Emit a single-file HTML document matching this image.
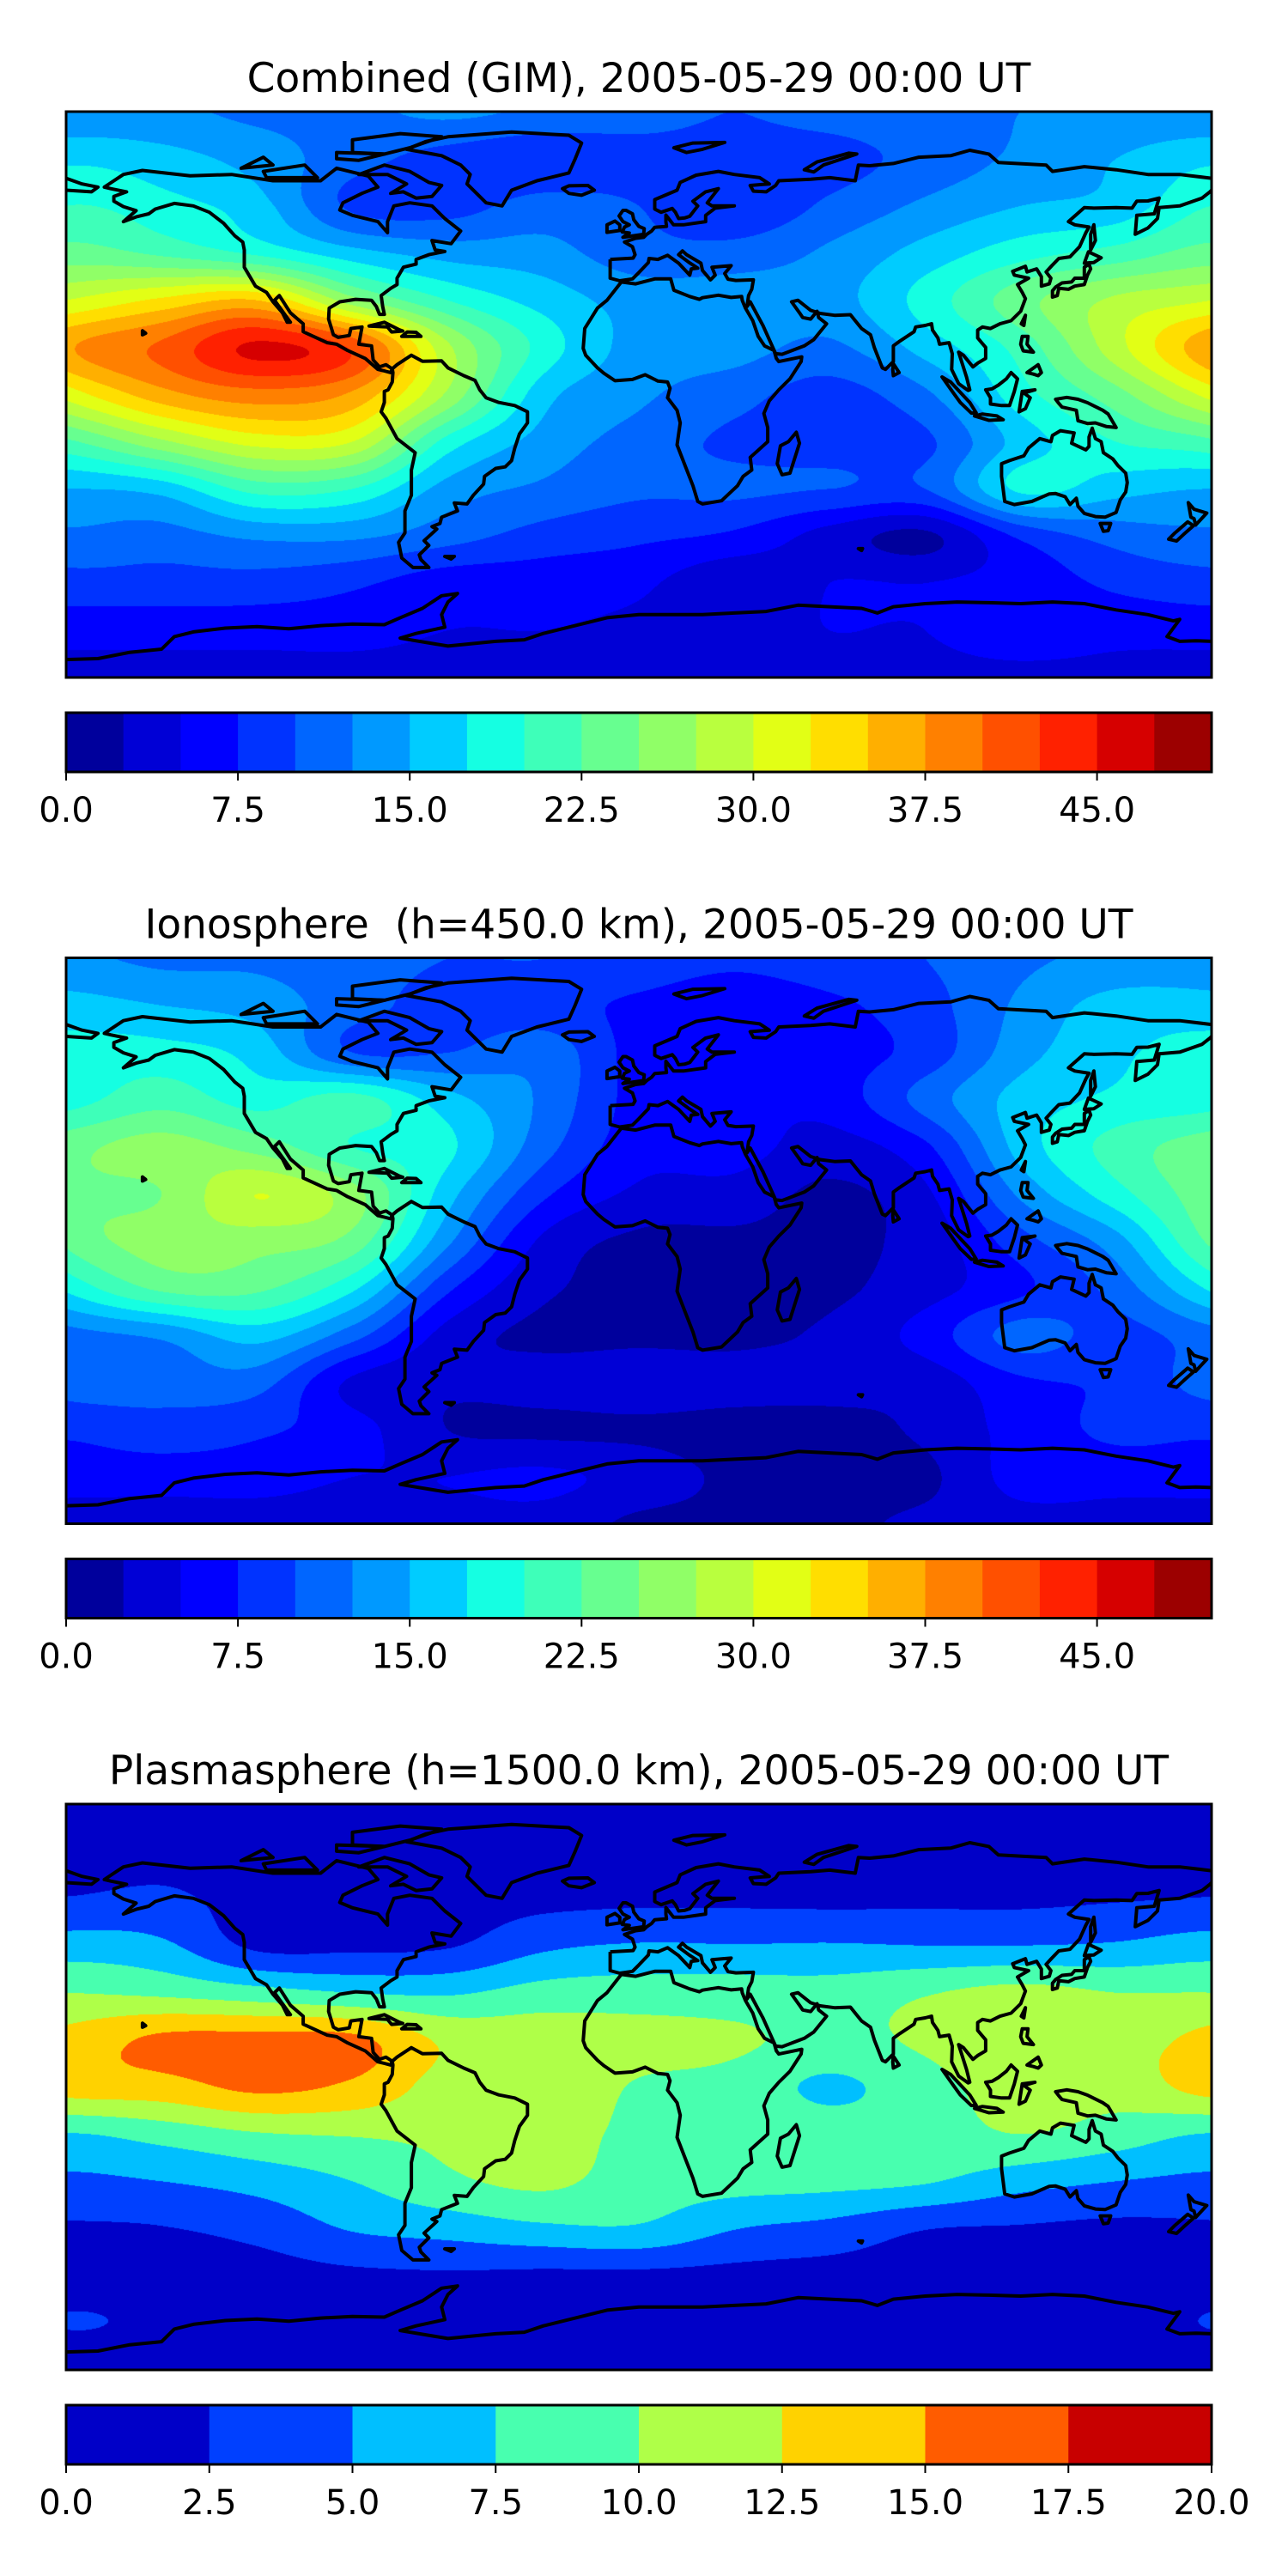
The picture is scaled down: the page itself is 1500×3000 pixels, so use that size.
<!DOCTYPE html>
<html><head><meta charset="utf-8">
<style>
html,body{margin:0;padding:0;background:#fff;}
#wrap{position:relative;width:1500px;height:3000px;overflow:hidden;background:#fff;}
canvas{position:absolute;}
#ov{position:absolute;left:0;top:0;}
text{font-family:"DejaVu Sans","Liberation Sans",sans-serif;fill:#000;}
</style></head>
<body>
<div id="wrap">
<svg id="ov" width="1500" height="3000" viewBox="0 0 1500 3000">
<defs>
<clipPath id="clip0"><rect x="77" y="130" width="1334" height="659"/></clipPath>
<clipPath id="clip1"><rect x="77" y="1115.5" width="1334" height="659"/></clipPath>
<clipPath id="clip2"><rect x="77" y="2101" width="1334" height="659"/></clipPath>
</defs>
<text x="744" y="107" font-size="47" text-anchor="middle">Combined (GIM), 2005-05-29 00:00 UT</text>
<text x="744" y="1092.5" font-size="47" text-anchor="middle" style="white-space:pre" xml:space="preserve">Ionosphere  (h=450.0 km), 2005-05-29 00:00 UT</text>
<text x="744" y="2078" font-size="47" text-anchor="middle">Plasmasphere (h=1500.0 km), 2005-05-29 00:00 UT</text>
</svg>
</div>
<script>
// ---------- data: grid nodes ----------
const lonNodes = [-180,-150,-120,-90,-60,-30,0,30,60,90,120,150];
const latNodes = [90,75,60,45,30,15,0,-15,-30,-45,-60,-75,-90];
// Combined GIM TEC, one array per longitude column (lat 90 -> -90)
const gimGrid = [
 [13,17,20,23.5,30,37,31,22,15,12,9,6,4],
 [13,16,18.5,22,33,40.5,36.5,27,16,11.5,9,6,4],
 [12,14,16,19.5,35,45.5,39,31,21,13,9,6,4],
 [12,11,9.5,16,26,42,37,30,20,13,8,6,4],
 [13,9,9,14,20,28,27,19,14,11,6,5,4],
 [12,8,11,13.5,16.5,19,16,14,12,9,6,5,4],
 [11,9,10,11,14,14,13,11.5,10.5,8,5.5,4.5,4],
 [10,9,8,11,14,13.5,11,9.5,10.5,7,3,4,4],
 [11,9,10.5,13,14,12,9,9,10,4,5,5,4],
 [12,11,13,16,18.5,16,12,9.5,10,2,5,5,4],
 [12.5,13,15,19,24,21,19,16,18,8,6,7,4],
 [13,15,16,21,28,29,24,20,16,11,8,6,4]
];
// Ionosphere TEC
const ionoGrid = [
 [13,16,18.5,19,24,24,23,18,11.5,11,8,6,4],
 [12,15,18.5,21.5,26,25,26,23,13,11,9,6,4],
 [12,14,16.5,19,24,30,26,23,16,11,8,6,4],
 [11,11,10,21,20,26,24,18,11,4.5,6,5,4],
 [10,9,10,16,18,16,13,8,4,3,2.5,5,4],
 [10,8.5,11.5,12,11,8,4.5,3,2,3.5,2,5.5,4],
 [9,7,6.5,6.5,6,4.5,2,2,2,4,2,4,2],
 [8,6,6,5.5,6,4,2,2,2,3.5,1.5,2,2],
 [9,7,6.5,6,4,2,2,2,3,3.5,1.5,2,2],
 [10,9,8.5,11,7,4.5,3.5,4,6,3.5,3,2,3],
 [12,13,14,16,16,13,9,7,11,7,6,6,4],
 [13,16,17,18,21,19,14,11,9,8,8,6,4]
];
// Plasmasphere TEC
const plasmaGrid = [
 [0.5,1,2.6,6.2,10,13.3,13.5,7.4,4.5,2.2,1.5,2.6,1],
 [0.5,1.5,3,5.5,9.5,15.5,14,8.5,5,2.4,1.5,2,1],
 [0.5,1,1.5,2,8.5,15.8,15.5,9.8,6,3.3,1.5,1,1],
 [0.5,1,1.5,2,7.5,15.6,14.5,10.2,7.5,5.2,2,1,1],
 [0.5,1,1.5,2.3,7.2,12,11.5,10.5,9.5,6,2.2,1.2,1],
 [0.5,1,1.8,4.5,8.5,11.5,11.5,11,10.5,7,2,1.2,1],
 [0.5,1,2,5.2,8.8,10.8,9.8,9.5,8.8,7.2,2,1.2,1],
 [0.5,1,2,5.1,8.8,10.3,9.3,9.8,8.5,5.1,1.8,1.2,1],
 [0.5,1,1.9,5.2,8.6,9.5,7,8.8,8.2,4.2,1.6,1.2,1],
 [0.5,1,2,5,9.8,10.3,9.2,8.8,7.7,2.6,1.5,1.2,1],
 [0.5,1,2,5,10.8,11.5,11,10,6,2.3,1.5,1.2,1],
 [0.5,1,2.3,5.3,10,11.5,11,8.8,5,2,1.5,1.2,1]
];
const tecTicks = [0,7.5,15,22.5,30,37.5,45];
const tecTickLabels = ["0.0","7.5","15.0","22.5","30.0","37.5","45.0"];
const plasmaTicks = [0,2.5,5,7.5,10,12.5,15,17.5,20];
const plasmaTickLabels = ["0.0","2.5","5.0","7.5","10.0","12.5","15.0","17.5","20.0"];

// ---------- coastlines (lon,lat) ----------
const coasts = {
"north-america":[[-168,66],[-162,70],[-156,71.3],[-141,69.6],[-128,70],[-115,68],[-100,68],[-95,72],[-85,69.5],[-82,66],[-87,64],[-93,61],[-94,58.7],[-90,57],[-82,55],[-79,51.5],[-79,55],[-77,60],[-72,61],[-65,60],[-61,56],[-56,52],[-59,48],[-65,49],[-64,46],[-61,45.5],[-66,44.5],[-70,43],[-70,41.5],[-74,40.5],[-76,37],[-76,35],[-78,33.8],[-81,31.5],[-80.5,28],[-80,25.5],[-81.5,25.5],[-82.5,28],[-84,30],[-89,30.3],[-94,29.5],[-97.3,27.5],[-97.5,24],[-96,19],[-94.5,18.2],[-91,18.8],[-90.5,21],[-87,21.5],[-88,16],[-84,15.5],[-83.5,11],[-81.5,8.8],[-79.5,9.5],[-77.5,8.2],[-78,7],[-80,7.5],[-82,8],[-86,11.5],[-91.5,14],[-95,16],[-98,16.5],[-105.5,20],[-105.5,22.5],[-109.5,26],[-113,31.5],[-114.5,30],[-109.5,23],[-110.5,23],[-112,26],[-115,29.5],[-117,32.5],[-120.5,34.5],[-124,40.5],[-124,46],[-124.5,48.5],[-127,50.5],[-130.5,54.5],[-135,58],[-140,60],[-146,60.8],[-152,59],[-154,57.5],[-158,56.5],[-162,55],[-158,58.5],[-162,59.8],[-165,61.5],[-165,63],[-161,64.5],[-166,65.5],[-168,66]],
"greenland":[[-73,78],[-67,80.5],[-60,82],[-40,83.5],[-22,82.5],[-18,80],[-20,75],[-22,70.5],[-32,68],[-40,65],[-43,60],[-48,61],[-51,64],[-54,67],[-53,70],[-56,73],[-62,76],[-73,78]],
"baffin":[[-80,73],[-72,71],[-66,67.5],[-62,66.5],[-65,63],[-70,62.5],[-74,64.5],[-78,64],[-73,67],[-79,70],[-88,70],[-80,73]],
"ellesmere":[[-90,81],[-75,83],[-62,82],[-72,78.5],[-80,76.5],[-90,77],[-90,81]],
"victoria":[[-118,71],[-105,73],[-101,69],[-117,69],[-118,71]],
"banks":[[-125,72],[-118,75.5],[-115,73],[-125,72]],
"devon":[[-95,77],[-80,76.5],[-88,74.5],[-95,75],[-95,77]],
"south-america":[[-77.5,8.2],[-76,9.5],[-71.5,12.5],[-68,10.6],[-62,10.7],[-60,8.5],[-55,6],[-51.5,4.5],[-50,1.5],[-48,-1],[-44,-2.5],[-39,-3.5],[-35,-5.5],[-35,-9],[-37.5,-12.5],[-39,-17],[-40,-21],[-42,-23],[-45,-23.5],[-48.5,-26],[-48.8,-28.5],[-52,-32],[-54,-34.8],[-58,-34.5],[-57,-37],[-62,-39],[-62.5,-41],[-65,-42],[-63.5,-42.8],[-67.5,-46.5],[-66,-48],[-69,-51],[-68.5,-52.5],[-66,-55],[-71,-55],[-74.5,-52],[-75.5,-47],[-73.5,-44],[-73.5,-37],[-71.5,-32],[-71.5,-24],[-70.3,-18.5],[-76,-14],[-79.5,-7.5],[-81,-5.5],[-80,-2.5],[-80,1],[-78.8,1.5],[-77.5,4],[-77.3,7],[-77.5,8.2]],
"eurasia":[[-9,43],[-9,39],[-9,37],[-6,36.2],[-2,36.8],[0,38.8],[3,42],[3.2,43.3],[6,43],[9,44.3],[12.5,41.8],[16,38],[16.5,40],[18.5,40.2],[15.8,42],[12.5,44.5],[13.7,45.7],[15,44.5],[19.5,41.8],[20,39.5],[22.5,36.5],[24,38],[23,40.5],[26.5,40.8],[29,41],[27,38.5],[28,36.7],[30.5,36.3],[36,36.5],[35.5,33.5],[34.5,31.5],[34,28],[35,29.5],[39,22],[43,13],[45,12.8],[52,15.5],[55,17.5],[59,22.5],[56.5,24.5],[56,26.5],[54,24],[51.5,24.5],[50.5,26],[48,29.5],[50,30],[54,26.8],[57,25.8],[61.5,25.2],[66.5,25.4],[68,23.5],[70,21],[72.8,19],[74,15],[76.5,8.5],[77.5,8],[80,10.5],[80,15.5],[82,17],[86.5,20],[87,21.5],[90,22],[92,22.5],[92.3,20.5],[94,18],[94.5,16],[97.5,16.5],[98.5,13],[98.3,8],[100.5,3.5],[103.5,1.3],[104,1.5],[103,5.5],[100.5,13.5],[102,12.5],[105,8.8],[106.5,10],[109,11.5],[109,15],[106.5,18],[106.5,20.5],[108,21.5],[110.5,21],[113.5,22.5],[117,23.5],[120,26.5],[121.5,30.5],[120.5,32.5],[119,35],[122.5,37],[118,38],[117.5,39.2],[121.5,40.8],[122,39],[125,40],[126.5,37.5],[126.5,34.5],[129,35.2],[129.5,37],[128,39],[129.8,41],[132,43.3],[135.5,43.8],[138.5,47],[140.5,51.5],[141.5,53.3],[137,54],[135,55],[140,59.5],[143,59.3],[150,59.5],[155,59.3],[156.5,61.5],[160,61.6],[163.5,62.5],[162,57.5],[156.5,57],[156,51],[160,53],[163,56],[163.5,59.5],[170,60],[177,62.5],[179.5,64.5],[180,65]],
"eurasia-north":[[180,68.8],[170,70],[160,70],[150,71.5],[140,72.5],[130,71],[128,73],[113,73.8],[110,76.5],[104,77.7],[98,76],[88,75.5],[80,73.5],[72.5,72.8],[69,73],[68,68],[60,69],[54,68.5],[44,68],[43,66.5],[40,64.5],[36,64.7],[35,66.5],[41,67],[38,69],[30,70],[25,71],[18,69.8],[13,67.5],[12,65],[5,62],[5,59],[7,58],[10.5,59.2],[11.5,58],[12.5,56],[14.5,56.2],[16,56.7],[18.5,60],[17,61.5],[21,64.5],[25,65.5],[21.5,61],[23,60],[30,60],[24,59.3],[21,57],[21,55],[14,54],[10.9,54],[8.5,57.1],[8.5,55],[8.7,53.5],[5,53.2],[4,52],[2.5,51],[1.5,50],[-1,49.7],[-4.5,48.5],[-2,47],[-1.2,44.5],[-1.8,43.4],[-9,43]],
"chukotka":[[-180,65],[-172,64.5],[-170,66],[-175,67],[-180,68.8]],
"africa":[[32.3,31.2],[29,30.9],[25,31.6],[20,30.8],[19,30.3],[16,31.2],[11,33.2],[10,36.8],[5,36.8],[-1,35.2],[-5.5,35.8],[-10,30],[-13,27.5],[-17,21],[-17.5,14.7],[-16.7,12.5],[-13,8.5],[-11,6.8],[-7.5,4.4],[-2,4.8],[2,6.3],[6,4.3],[9,4],[9.8,2],[9,-1],[12,-5],[13,-9],[12,-16],[14.5,-22.5],[17,-29],[18.5,-34],[20,-34.8],[26,-33.8],[31,-29],[32.8,-26],[35.5,-24],[35,-20],[40.5,-15],[40.5,-10.5],[39.3,-6],[41,-2],[44,1.5],[47.5,5],[51,10.5],[51.2,12],[44,10.5],[43.2,11.5],[42.5,14],[39.5,15.5],[37.5,18.5],[35.8,23.5],[33.5,27.5],[32.5,30],[32.3,31.2]],
"madagascar":[[49.5,-12],[50.5,-15.5],[47.5,-25],[45,-25.5],[43.5,-22],[44.5,-16.3],[47,-15],[49.5,-12]],
"great-britain":[[-5,50],[1.5,51],[1.7,52.8],[0,53.5],[-1.6,55.6],[-2,57.5],[-4,58.6],[-5,58.6],[-6.2,56.8],[-5,55],[-3,54],[-4.5,53.3],[-5.2,51.7],[-3,51.4],[-5,50]],
"ireland":[[-6,52.2],[-6,54],[-7.5,55.2],[-10,54],[-10,51.6],[-6,52.2]],
"iceland":[[-22,64],[-24,65.5],[-22,66.4],[-16,66.5],[-14,65],[-18,63.4],[-22,64]],
"honshu":[[130,31],[131.5,31.5],[132,33.8],[135,33.5],[137,34.5],[140,35],[141,38],[142,40],[141.5,41.5],[140,40.5],[140,37],[137,37],[136,35.8],[133,35.5],[131,34.2],[130,33],[130,31]],
"hokkaido":[[140,41.8],[141.3,45.4],[145.3,43.5],[143,42],[140,41.8]],
"sakhalin":[[142,46],[143.5,49],[143,54],[142,51],[142,46]],
"australia":[[114,-22],[114,-26],[115,-34],[118,-35],[123.5,-34],[129,-31.6],[131,-31.5],[134,-32.5],[135.5,-35],[137.5,-33],[138,-35.5],[140,-37.8],[143.5,-38.8],[146.5,-39],[150,-37.5],[151.3,-33.5],[153,-31],[153.5,-28],[153,-25],[150.5,-22.5],[149,-20.5],[146,-18.5],[145.3,-15],[143.5,-14],[142.5,-10.7],[141.5,-13.5],[141.5,-16.5],[140.5,-17.6],[136,-15.5],[136.8,-12.2],[132.5,-11.5],[130,-13],[129.5,-15],[126,-14],[122.5,-17],[121,-19.5],[116.5,-21],[114,-22]],
"tasmania":[[145,-41],[148.3,-41],[147.5,-43.3],[146,-43.5],[145,-41]],
"nz-north":[[172.7,-34.4],[174.5,-36.5],[178.5,-37.7],[177,-39.3],[175,-41.5],[174.5,-39.5],[173.5,-39],[172.7,-34.4]],
"nz-south":[[172.5,-40.5],[174.3,-41.7],[171.2,-44.5],[169,-46.6],[166.5,-46],[168.5,-44],[172.5,-40.5]],
"sumatra":[[95.3,5.6],[98,4],[104,-2.5],[106,-5.8],[104.5,-5.9],[101,-2.5],[98.5,1],[95.3,5.6]],
"java":[[105.5,-6.8],[108,-6.2],[112.5,-6.8],[114.5,-8],[110,-8.2],[105.5,-6.8]],
"borneo":[[109,1.5],[110.5,-1],[110.5,-3],[114,-3.5],[116.5,-3.5],[118,1],[119,5],[117,7],[115.5,5],[113,3],[111,1.8],[109,1.5]],
"sulawesi":[[119.5,-5.5],[120.5,1],[124.5,1.5],[121,0.5],[123,-1],[121.5,-4.5],[119.5,-5.5]],
"new-guinea":[[131,-1.5],[134.5,-0.9],[138,-1.5],[141,-2.6],[145.8,-5],[147.5,-6.2],[150,-10.5],[147,-10.2],[143.5,-9],[141,-9.2],[138,-8.3],[137.5,-5],[133,-4],[132,-2.8],[131,-1.5]],
"luzon":[[120.5,18.5],[122.3,18.5],[122,16],[124,13.5],[120.8,13.9],[120,16],[120.5,18.5]],
"mindanao":[[122,7],[125.5,9.5],[126.5,7],[125.5,6],[124,6.5],[122,7]],
"taiwan":[[120.2,22.5],[121.5,25.2],[121,22],[120.2,22.5]],
"sri-lanka":[[80,6],[81.8,7],[80,9.8],[79.8,8],[80,6]],
"cuba":[[-84.8,21.8],[-80,23],[-75.5,20.7],[-74.2,20.2],[-77.7,19.9],[-79,21.5],[-84.8,21.8]],
"hispaniola":[[-74.5,18.5],[-68.5,18.5],[-70,19.8],[-72.8,19.9],[-74.5,18.5]],
"novaya-zemlya":[[52,71.5],[56,74],[66,76.8],[68.5,76.5],[58,73],[55,70.8],[52,71.5]],
"svalbard":[[11,78.5],[17,80],[27,80.2],[20,78],[15,77],[11,78.5]],
"hawaii":[[-156,19],[-155,19.5],[-156,20.3],[-156,19]],
"falklands":[[-61,-51.5],[-58,-51.5],[-59,-52.3],[-61,-51.5]],
"kerguelen":[[69,-49],[70.3,-49],[70,-49.6],[69,-49]],
"antarctica":[[-180,-84.3],[-170,-84],[-160,-82],[-150,-81],[-146,-77],[-140,-75.5],[-130,-74.3],[-120,-73.8],[-110,-74.5],[-100,-73.5],[-90,-73],[-80,-73.2],[-75,-71],[-68,-68],[-62,-64],[-57,-63.3],[-60,-66],[-62,-70],[-61,-74],[-70,-76],[-75,-77.5],[-60,-80],[-45,-78.5],[-36,-78],[-30,-76],[-20,-73.5],[-10,-71],[0,-70],[10,-70],[20,-70],[30,-69.5],[40,-69],[50,-67],[60,-67.5],[70,-68],[75,-69.5],[80,-67.5],[90,-66.5],[100,-66],[110,-66.2],[120,-66.5],[130,-66],[140,-66.5],[150,-68.5],[160,-70],[168,-72],[170,-71.5],[166,-77],[170,-78.5],[175,-78.3],[180,-78.5]]
};
const openLines = ["eurasia","eurasia-north","chukotka","antarctica"];

// ---------- layout ----------
const MX = 77, MW = 1334, MH = 659;
const panels = [
 {key:"combined", grid:gimGrid, top:130, cbTop:830, nLev:20, vmax:50, ticks:tecTicks, labels:tecTickLabels},
 {key:"ionosphere", grid:ionoGrid, top:1115.5, cbTop:1815.5, nLev:20, vmax:50, ticks:tecTicks, labels:tecTickLabels},
 {key:"plasmasphere", grid:plasmaGrid, top:2101, cbTop:2801, nLev:8, vmax:20, ticks:plasmaTicks, labels:plasmaTickLabels}
];
const CBH = 69;

function jet(x){
  function seg(pts){ for(let i=1;i<pts.length;i++){ if(x<=pts[i][0]){ const a=pts[i-1],b=pts[i]; return a[1]+(b[1]-a[1])*(x-a[0])/(b[0]-a[0]); } } return pts[pts.length-1][1]; }
  const r=seg([[0,0],[0.35,0],[0.66,1],[0.89,1],[1,0.5]]);
  const g=seg([[0,0],[0.125,0],[0.375,1],[0.64,1],[0.91,0],[1,0]]);
  const b=seg([[0,0.5],[0.11,1],[0.34,1],[0.65,0],[1,0]]);
  return [Math.round(r*255),Math.round(g*255),Math.round(b*255)];
}
function cr(p0,p1,p2,p3,t){ return 0.5*((2*p1)+(-p0+p2)*t+(2*p0-5*p1+4*p2-p3)*t*t+(-p0+3*p1-3*p2+p3)*t*t*t); }

const wrap = document.getElementById('wrap');
const svg = document.getElementById('ov');
const NS = "http://www.w3.org/2000/svg";
function mk(tag, attrs){ const e=document.createElementNS(NS,tag); for(const k in attrs) e.setAttribute(k,attrs[k]); return e; }

panels.forEach((p, pi) => {
  const cols = lonNodes.length, rows = latNodes.length;
  const levColors = [];
  for(let i=0;i<p.nLev;i++) levColors.push(jet((i+0.5)/p.nLev));
  const step = p.vmax / p.nLev;
  const cv = document.createElement('canvas');
  
  
  cv.width = MW; cv.height = Math.round(MH);
  cv.style.left = MX + 'px'; cv.style.top = p.top + 'px';
  wrap.insertBefore(cv, svg);
  const ctx = cv.getContext('2d');
  const img = ctx.createImageData(cv.width, cv.height);
  const colVals = new Float64Array(cols);
  for(let y=0;y<cv.height;y++){
    const lat = 90 - (y+0.5)/cv.height*180;
    let w = (90-lat)/15; let j = Math.floor(w); if(j>rows-2) j=rows-2; const s = w-j;
    const r0=Math.max(j-1,0), r1=j, r2=j+1, r3=Math.min(j+2,rows-1);
    for(let c=0;c<cols;c++){ const g=p.grid[c]; colVals[c]=cr(g[r0],g[r1],g[r2],g[r3],s); }
    for(let x=0;x<cv.width;x++){
      const lon = -180 + (x+0.5)/cv.width*360;
      const u = (lon+180)/30; const i = Math.floor(u); const t=u-i;
      const v = cr(colVals[(i-1+cols)%cols],colVals[i%cols],colVals[(i+1)%cols],colVals[(i+2)%cols],t);
      let L = Math.floor(v/step); if(L<0)L=0; if(L>p.nLev-1)L=p.nLev-1;
      const col = levColors[L]; const o=(y*cv.width+x)*4;
      img.data[o]=col[0]; img.data[o+1]=col[1]; img.data[o+2]=col[2]; img.data[o+3]=255;
    }
  }
  ctx.putImageData(img,0,0);

  const g = mk('g', {'clip-path':'url(#clip'+pi+')', fill:'none', stroke:'#000', 'stroke-width':'4', 'stroke-linejoin':'round'});
  
  
  for(const name in coasts){
    const pts = coasts[name].map(q => ((MX + (q[0]+180)/360*MW).toFixed(1)) + ',' + ((p.top + (90-q[1])/180*MH).toFixed(1))).join(' ');
    const el = mk(openLines.includes(name) ? 'polyline' : 'polygon', {points: pts});
    
    
    g.appendChild(el);
  }
  svg.appendChild(g);
  const frame = mk('rect', {x:MX, y:p.top, width:MW, height:MH, fill:'none', stroke:'#000', 'stroke-width':'3'});
  
  
  svg.appendChild(frame);

  const cb = mk('g', {});
  
  
  const bw = MW / p.nLev;
  for(let i=0;i<p.nLev;i++){
    const c = levColors[i];
    const r = mk('rect', {x:(MX+i*bw).toFixed(2), y:p.cbTop, width:(bw+0.6).toFixed(2), height:CBH, fill:'rgb('+c[0]+','+c[1]+','+c[2]+')'});
    
    
    cb.appendChild(r);
  }
  const cbf = mk('rect', {x:MX, y:p.cbTop, width:MW, height:CBH, fill:'none', stroke:'#000', 'stroke-width':'3'});
  
  
  cb.appendChild(cbf);
  p.ticks.forEach((tv, k) => {
    const tx = MX + tv/p.vmax*MW;
    const tl = mk('line', {x1:tx, x2:tx, y1:p.cbTop+CBH, y2:p.cbTop+CBH+10, stroke:'#000', 'stroke-width':'2'});
    
    
    cb.appendChild(tl);
    const tt = mk('text', {x:tx, y:p.cbTop+CBH+58, 'font-size':'40', 'text-anchor':'middle'});
    
    
    tt.textContent = p.labels[k];
    cb.appendChild(tt);
  });
  svg.appendChild(cb);
});
</script>
</body></html>
